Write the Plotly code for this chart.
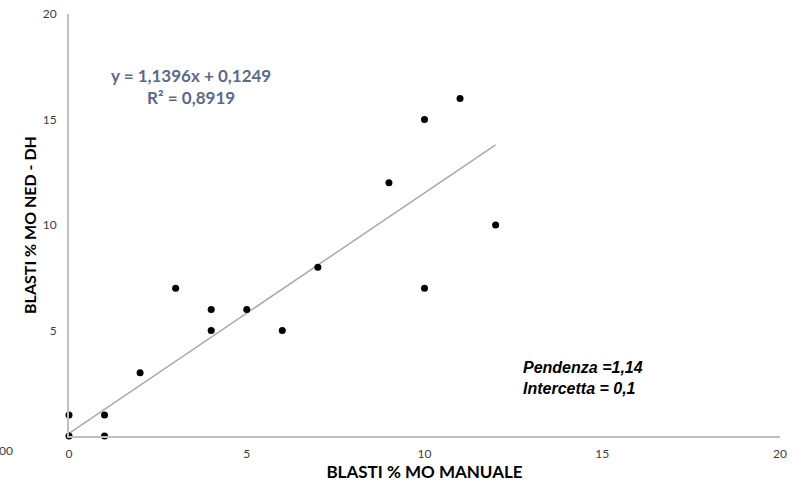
import plotly.graph_objects as go

# Blast percentages: manual bone-marrow count vs NED-DH count
manuale = [0, 0, 1, 1, 2, 3, 4, 4, 5, 6, 7, 9, 10, 10, 11, 12]
ned_dh = [0, 1, 1, 0, 3, 7, 6, 5, 6, 5, 8, 12, 15, 7, 16, 10]

# Linear trendline coefficients
slope = 1.1396
intercept = 0.1249
r2 = 0.8919
trend_x = [0, 12]
trend_y = [slope * x + intercept for x in trend_x]

x_ticks = [0, 5, 10, 15, 20]
y_ticks = [5, 10, 15, 20]


def it_num(v):
    return str(v).replace(".", ",")


fig = go.Figure()
fig.add_trace(go.Scatter(
    x=trend_x, y=trend_y, mode="lines",
    line=dict(color="#a9a9a9", width=1.5),
    hoverinfo="skip", showlegend=False, cliponaxis=False,
))
fig.add_trace(go.Scatter(
    x=manuale, y=ned_dh, mode="markers",
    marker=dict(color="black", size=7),
    showlegend=False, cliponaxis=False,
))

tick_font = dict(family="Lato, Open Sans, sans-serif", size=12, color="#404040")

fig.update_layout(
    width=802, height=483,
    margin=dict(l=69, r=22, t=14, b=47),
    paper_bgcolor="white", plot_bgcolor="white",
    xaxis=dict(
        range=[0, 20], tickvals=x_ticks, ticktext=[str(v) for v in x_ticks],
        showgrid=False, zeroline=False, showline=True, automargin=False,
        linecolor="#bfbfbf", linewidth=2, ticks="", tickfont=tick_font,
        ticklabelstandoff=6,
        title=dict(text="<b>BLASTI % MO MANUALE</b>", standoff=1,
                   font=dict(family="Lato, Open Sans, sans-serif", size=17, color="black")),
    ),
    yaxis=dict(
        range=[0, 20], tickvals=y_ticks, ticktext=[str(v) for v in y_ticks],
        showgrid=False, zeroline=False, showline=True, automargin=False,
        linecolor="#bfbfbf", linewidth=2, ticks="", tickfont=tick_font,
        ticklabelstandoff=8,
        title=dict(text="<b>BLASTI % MO NED - DH</b>", standoff=2,
                   font=dict(family="Lato, Open Sans, sans-serif", size=16, color="black")),
    ),
)

# Trendline equation and R²
fig.add_annotation(
    x=0.172, y=0.828, xref="paper", yref="paper",
    text=f"<b>y = {it_num(slope)}x + {it_num(intercept)}</b><br><b>R² = {it_num(r2)}</b>",
    showarrow=False, align="center", xanchor="center", yanchor="middle",
    font=dict(family="Lato, Open Sans, sans-serif", size=17, color="#5b6a87"),
)

# Slope / intercept summary
fig.add_annotation(
    x=0.636, y=0.138, xref="paper", yref="paper",
    text="<b><i>Pendenza =1,14</i></b><br><b><i>Intercetta = 0,1</i></b>",
    showarrow=False, align="left", xanchor="left", yanchor="middle",
    font=dict(family="Liberation Sans, Arial, sans-serif", size=16, color="black"),
)

# Clipped label at the far left edge of the axis row
fig.add_annotation(
    x=-69 / 711, y=-14 / 422, xref="paper", yref="paper",
    text="00", showarrow=False, xanchor="left", yanchor="middle",
    xshift=-3, font=tick_font,
)

fig.write_html("out.html")
